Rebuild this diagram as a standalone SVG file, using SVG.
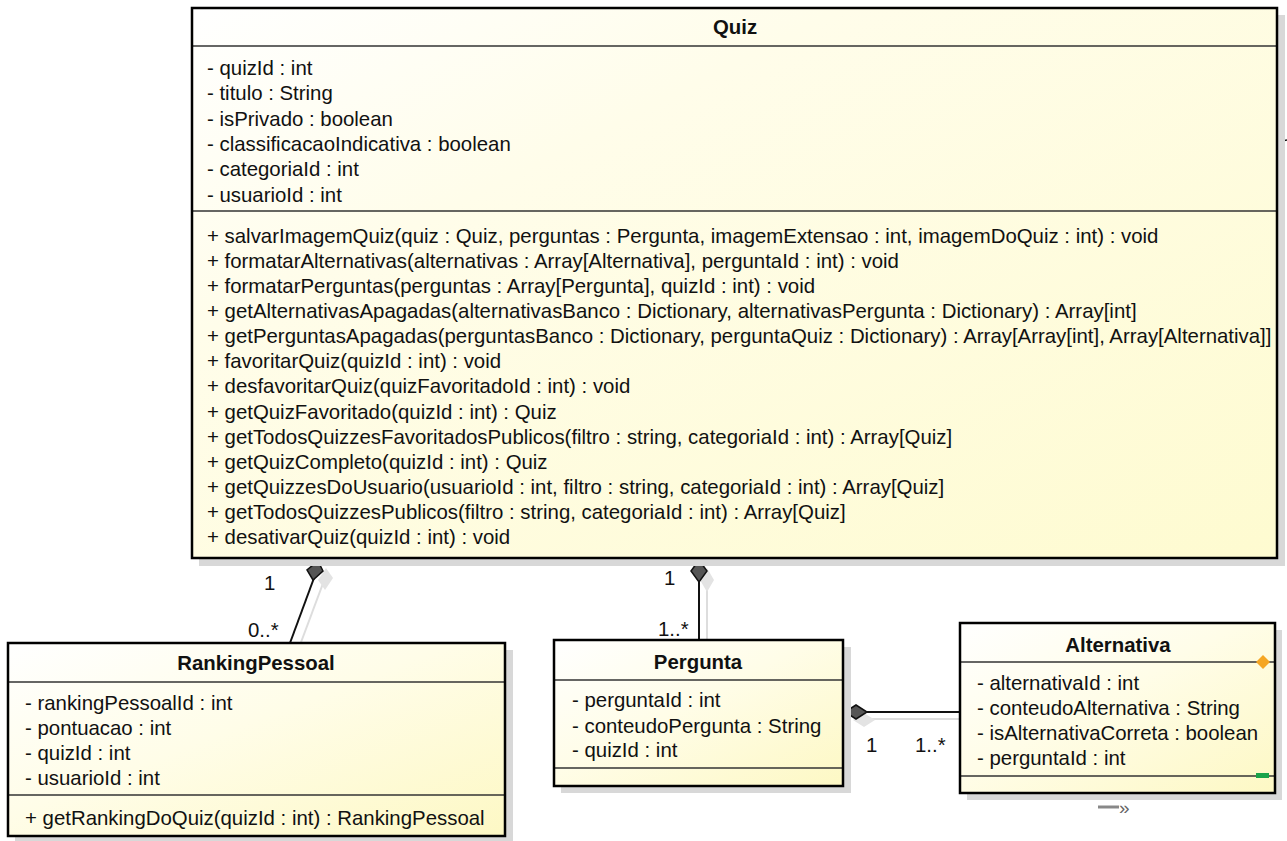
<svg xmlns="http://www.w3.org/2000/svg" width="1287" height="841" viewBox="0 0 1287 841">
<defs>
<linearGradient id="body" x1="0" y1="0" x2="1" y2="1">
<stop offset="0" stop-color="#ffffff"/>
<stop offset="0.45" stop-color="#fffde8"/>
<stop offset="1" stop-color="#fdf8c4"/>
</linearGradient>
<linearGradient id="bodyQ" x1="0" y1="0" x2="1" y2="1">
<stop offset="0" stop-color="#ffffff"/>
<stop offset="0.3" stop-color="#fffdea"/>
<stop offset="1" stop-color="#fefbd0"/>
</linearGradient>
<clipPath id="qclip"><rect x="192" y="8" width="1090" height="550"/></clipPath>
</defs>
<style>
.sh{fill:#d8d8d8}
.box{stroke:#000;stroke-width:2.5}
.sep{stroke:#333;stroke-width:1.5}
.t{font-family:"Liberation Sans",Arial,sans-serif;font-size:20.4px;fill:#111}
.h{font-family:"Liberation Sans",Arial,sans-serif;font-size:20.4px;font-weight:bold;fill:#111;text-anchor:middle}
.ln{stroke:#111;stroke-width:2;fill:none}
.lns{stroke:#ddd;stroke-width:2;fill:none}
.dia{fill:#555;stroke:#111;stroke-width:1.5}
.dias{fill:#e3e3e3}
</style>
<rect width="1287" height="841" fill="#fff"/>

<g id="connectors">
<line class="lns" x1="325" y1="578" x2="300" y2="645"/>
<polygon class="dias" points="326,568 333,578 325,590 318,580"/>
<line class="ln" x1="314" y1="578" x2="290" y2="643"/>
<polygon class="dia" points="318,561 323,571 313,580 307,570"/>
<text class="t" x="264" y="590">1</text>
<text class="t" x="248" y="637">0..*</text>

<line class="lns" x1="707" y1="583" x2="707" y2="645"/>
<polygon class="dias" points="707,568 714,580 707,592 700,580"/>
<line class="ln" x1="699" y1="582" x2="699" y2="640"/>
<polygon class="dia" points="699,560 707,571 699,582 691,571"/>
<text class="t" x="664" y="585">1</text>
<text class="t" x="658" y="636">1..*</text>

<line class="lns" x1="870" y1="719" x2="968" y2="719"/>
<polygon class="dias" points="853,720 864,713 875,720 864,727"/>
<line class="ln" x1="867" y1="712" x2="960" y2="712"/>
<polygon class="dia" points="845,712 856,705 867,712 856,719"/>
<text class="t" x="866" y="752">1</text>
<text class="t" x="915" y="752">1..*</text>

<line x1="1277" y1="142" x2="1287" y2="140" stroke="#111" stroke-width="1.5"/>
<line x1="1098" y1="807" x2="1119" y2="807" stroke="#888" stroke-width="3"/>
<text x="1119" y="814" font-family="Liberation Sans,Arial,sans-serif" font-size="19" fill="#666">»</text>
</g>

<g id="quiz">
<rect class="sh" x="199" y="15" width="1086" height="551"/>
<rect x="192" y="8" width="1085" height="550" fill="url(#bodyQ)"/>
<line class="sep" x1="192" y1="46" x2="1277" y2="46"/>
<line class="sep" x1="192" y1="211" x2="1277" y2="211"/>
<text class="h" x="735" y="34">Quiz</text>
<g clip-path="url(#qclip)">
<text class="t" x="207" y="75">- quizId : int</text>
<text class="t" x="207" y="100">- titulo : String</text>
<text class="t" x="207" y="126">- isPrivado : boolean</text>
<text class="t" x="207" y="151">- classificacaoIndicativa : boolean</text>
<text class="t" x="207" y="176">- categoriaId : int</text>
<text class="t" x="207" y="202">- usuarioId : int</text>
<text class="t" x="207" y="243">+ salvarImagemQuiz(quiz : Quiz, perguntas : Pergunta, imagemExtensao : int, imagemDoQuiz : int) : void</text>
<text class="t" x="207" y="268">+ formatarAlternativas(alternativas : Array[Alternativa], perguntaId : int) : void</text>
<text class="t" x="207" y="293">+ formatarPerguntas(perguntas : Array[Pergunta], quizId : int) : void</text>
<text class="t" x="207" y="318">+ getAlternativasApagadas(alternativasBanco : Dictionary, alternativasPergunta : Dictionary) : Array[int]</text>
<text class="t" x="207" y="343">+ getPerguntasApagadas(perguntasBanco : Dictionary, perguntaQuiz : Dictionary) : Array[Array[int], Array[Alternativa]]</text>
<text class="t" x="207" y="368">+ favoritarQuiz(quizId : int) : void</text>
<text class="t" x="207" y="393">+ desfavoritarQuiz(quizFavoritadoId : int) : void</text>
<text class="t" x="207" y="419">+ getQuizFavoritado(quizId : int) : Quiz</text>
<text class="t" x="207" y="444">+ getTodosQuizzesFavoritadosPublicos(filtro : string, categoriaId : int) : Array[Quiz]</text>
<text class="t" x="207" y="469">+ getQuizCompleto(quizId : int) : Quiz</text>
<text class="t" x="207" y="494">+ getQuizzesDoUsuario(usuarioId : int, filtro : string, categoriaId : int) : Array[Quiz]</text>
<text class="t" x="207" y="519">+ getTodosQuizzesPublicos(filtro : string, categoriaId : int) : Array[Quiz]</text>
<text class="t" x="207" y="544">+ desativarQuiz(quizId : int) : void</text>
</g>
<rect class="box" x="192" y="8" width="1085" height="550" fill="none"/>
</g>

<g id="rankingpessoal">
<rect class="sh" x="15" y="650" width="498" height="191"/>
<rect x="8" y="643" width="497" height="193" fill="url(#body)"/>
<line class="sep" x1="8" y1="682" x2="505" y2="682"/>
<line class="sep" x1="8" y1="795" x2="505" y2="795"/>
<text class="h" x="256" y="670">RankingPessoal</text>
<text class="t" x="25" y="710">- rankingPessoalId : int</text>
<text class="t" x="25" y="735">- pontuacao : int</text>
<text class="t" x="25" y="760">- quizId : int</text>
<text class="t" x="25" y="785">- usuarioId : int</text>
<text class="t" x="25" y="825">+ getRankingDoQuiz(quizId : int) : RankingPessoal</text>
<rect class="box" x="8" y="643" width="497" height="193" fill="none"/>
</g>

<g id="pergunta">
<rect class="sh" x="561" y="647" width="290" height="146"/>
<rect x="554" y="640" width="289" height="146" fill="url(#body)"/>
<line class="sep" x1="554" y1="680" x2="843" y2="680"/>
<line class="sep" x1="554" y1="768" x2="843" y2="768"/>
<text class="h" x="698" y="669">Pergunta</text>
<text class="t" x="572" y="707">- perguntaId : int</text>
<text class="t" x="572" y="733">- conteudoPergunta : String</text>
<text class="t" x="572" y="757">- quizId : int</text>
<rect class="box" x="554" y="640" width="289" height="146" fill="none"/>
</g>

<g id="alternativa">
<rect class="sh" x="967" y="630" width="315" height="170"/>
<rect x="960" y="623" width="315" height="170" fill="url(#body)"/>
<line class="sep" x1="960" y1="662" x2="1275" y2="662"/>
<line class="sep" x1="960" y1="776" x2="1275" y2="776"/>
<text class="h" x="1118" y="652">Alternativa</text>
<text class="t" x="977" y="690">- alternativaId : int</text>
<text class="t" x="977" y="715">- conteudoAlternativa : String</text>
<text class="t" x="977" y="740">- isAlternativaCorreta : boolean</text>
<text class="t" x="977" y="765">- perguntaId : int</text>
<polygon points="1263,655 1270,662 1263,669 1256,662" fill="#f5a623"/>
<rect x="1256" y="773" width="13" height="5" fill="#1aa34a"/>
<rect class="box" x="960" y="623" width="315" height="170" fill="none"/>
</g>
</svg>
